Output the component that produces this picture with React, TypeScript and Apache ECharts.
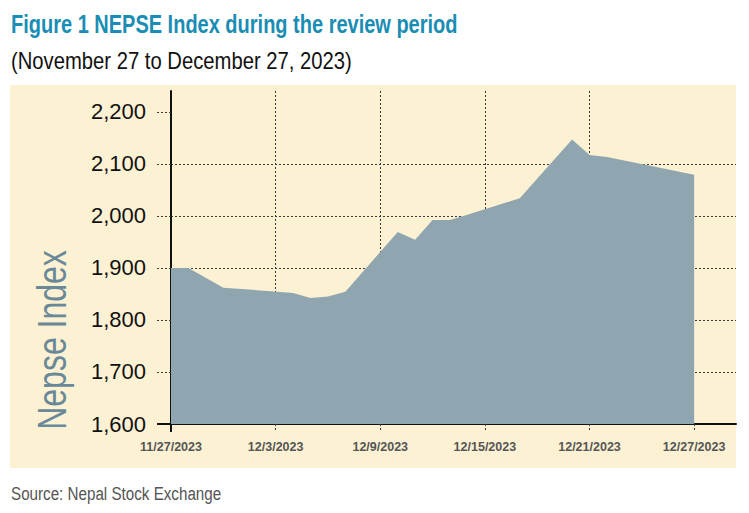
import React, { useEffect, useRef } from "react";
import * as echarts from "echarts";

const dates = [
  "11/27/2023", "11/28/2023", "11/30/2023", "12/4/2023", "12/5/2023", "12/6/2023",
  "12/7/2023", "12/10/2023", "12/11/2023", "12/12/2023", "12/13/2023", "12/14/2023",
  "12/17/2023", "12/20/2023", "12/21/2023", "12/22/2023", "12/27/2023",
];
const values = [
  1900, 1900, 1862, 1852, 1842, 1845,
  1854, 1969, 1954, 1992, 1992, 2002,
  2034, 2147, 2117, 2113, 2079,
];
const xTickLabels = ["11/27/2023", "12/3/2023", "12/9/2023", "12/15/2023", "12/21/2023", "12/27/2023"];
const yTicks = [1600, 1700, 1800, 1900, 2000, 2100, 2200];

const TITLE = "Figure 1 NEPSE Index during the review period";
const SUBTITLE = "(November 27 to December 27, 2023)";
const SOURCE = "Source: Nepal Stock Exchange";
const Y_NAME = "Nepse Index";

const START = "11/27/2023";
function dayOffset(s: string): number {
  const [m, d, y] = s.split("/").map(Number);
  const [m0, d0, y0] = START.split("/").map(Number);
  return (Date.UTC(y, m - 1, d) - Date.UTC(y0, m0 - 1, d0)) / 86400000;
}

const SANS = "'Liberation Sans', Arial, sans-serif";

export default function App() {
  const ref = useRef<HTMLDivElement>(null);
  useEffect(() => {
    if (!ref.current) return;
    const chart = echarts.init(ref.current, null, { renderer: "svg" });
    const xTickVals = xTickLabels.map(dayOffset);
    const labelByDay: Record<string, string> = {};
    xTickLabels.forEach((l) => (labelByDay[String(dayOffset(l))] = l));
    const xMax = 32.4;
    const dotted = { color: "#3a3a3a", width: 1, type: [2, 2] as any };
    chart.setOption({
      animation: false,
      backgroundColor: "#ffffff",
      graphic: [
        {
          type: "rect",
          z: -10,
          silent: true,
          shape: { x: 10, y: 85, width: 726, height: 383 },
          style: { fill: "#fcf1d3" },
        },
        {
          type: "text",
          x: 11,
          y: 25,
          scaleX: 0.8,
          style: {
            text: TITLE,
            fill: "#1a8db4",
            fontSize: 25,
            fontWeight: "bold",
            fontFamily: SANS,
            align: "left",
            verticalAlign: "middle",
          },
        },
        {
          type: "text",
          x: 11,
          y: 61,
          scaleX: 0.88,
          style: {
            text: SUBTITLE,
            fill: "#111111",
            fontSize: 23,
            fontFamily: SANS,
            align: "left",
            verticalAlign: "middle",
          },
        },
        {
          type: "text",
          x: 11,
          y: 493,
          scaleX: 0.8,
          style: {
            text: SOURCE,
            fill: "#555555",
            fontSize: 19,
            fontFamily: SANS,
            align: "left",
            verticalAlign: "middle",
          },
        },
        {
          type: "text",
          x: 52,
          y: 340,
          rotation: Math.PI / 2,
          scaleX: 0.8,
          style: {
            text: Y_NAME,
            fill: "#6a8998",
            fontSize: 40,
            fontFamily: SANS,
            align: "center",
            verticalAlign: "middle",
          },
        },
      ],
      grid: { left: 171, right: 13, top: 91, bottom: 89, containLabel: false },
      xAxis: [
        {
          type: "value",
          position: "bottom",
          min: 0,
          max: xMax,
          interval: 6,
          axisLine: { show: true, onZero: false, lineStyle: { color: "#111111", width: 2 } },
          axisTick: { show: true, customValues: xTickVals, length: 8, lineStyle: dotted },
          axisLabel: {
            customValues: xTickVals,
            margin: 16,
            color: "#555555",
            fontSize: 12.5,
            fontWeight: "bold",
            fontFamily: SANS,
            formatter: (v: number) => labelByDay[String(v)] ?? "",
          },
          splitLine: { show: true, showMinLine: false, showMaxLine: false, lineStyle: dotted },
        },
        {
          type: "value",
          position: "bottom",
          min: 0,
          max: xMax,
          axisLine: { show: false, onZero: false },
          axisTick: { show: true, customValues: [xTickVals[0]], length: 8, lineStyle: { color: "#111111", width: 2 } },
          axisLabel: { show: false },
          splitLine: { show: false },
        },
      ],
      yAxis: [
        {
          type: "value",
          position: "left",
          min: 1600,
          max: 2240,
          interval: 100,
          axisLine: { show: true, onZero: false, lineStyle: { color: "#111111", width: 2 } },
          axisTick: { show: true, customValues: yTicks, length: 14, lineStyle: dotted },
          axisLabel: {
            customValues: yTicks,
            margin: 25,
            color: "#111111",
            fontSize: 22,
            fontFamily: SANS,
            formatter: (v: number) => v.toLocaleString("en-US"),
          },
          splitLine: { show: true, showMinLine: false, showMaxLine: false, lineStyle: dotted },
        },
        {
          type: "value",
          position: "left",
          min: 1600,
          max: 2240,
          axisLine: { show: false, onZero: false },
          axisTick: { show: true, customValues: [yTicks[0]], length: 14, lineStyle: { color: "#111111", width: 2 } },
          axisLabel: { show: false },
          splitLine: { show: false },
        },
      ],
      series: [
        {
          type: "line",
          data: dates.map((d, i) => [dayOffset(d), values[i]]),
          symbol: "none",
          lineStyle: { width: 0 },
          areaStyle: { color: "#8fa5b0", opacity: 1 },
          z: 1,
        },
      ],
    });
    return () => chart.dispose();
  }, []);
  return <div ref={ref} style={{ position: "absolute", left: 0, top: 0, width: 749, height: 513 }} />;
}
